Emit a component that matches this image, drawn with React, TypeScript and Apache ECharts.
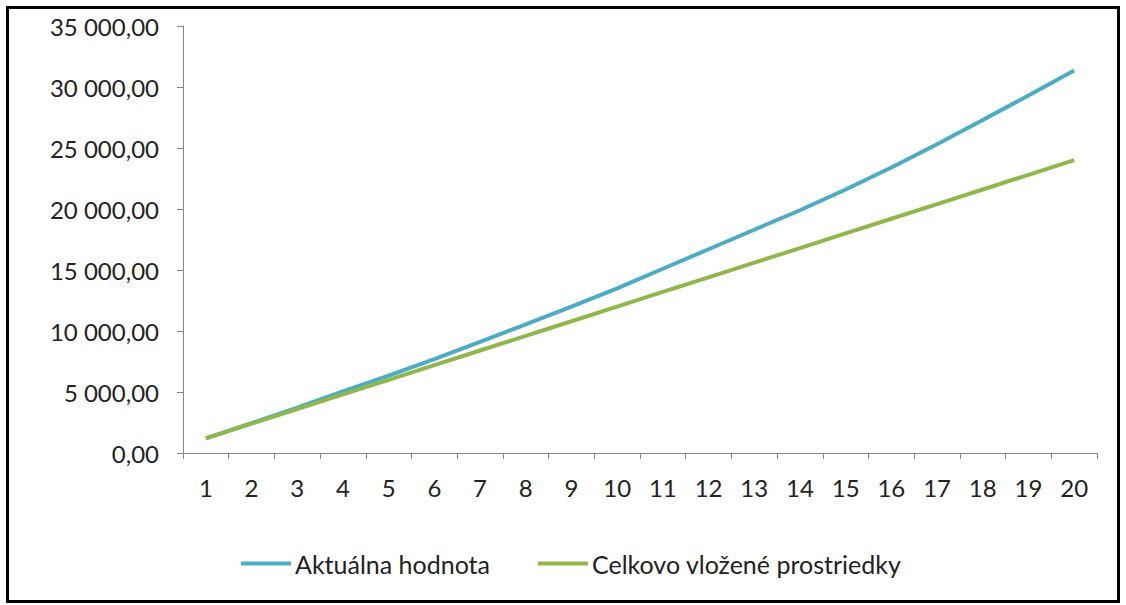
import React, { useEffect, useRef } from "react";
import * as echarts from "echarts";

const categories = ["1","2","3","4","5","6","7","8","9","10","11","12","13","14","15","16","17","18","19","20"];
const aktualnaHodnota = [1200, 2450, 3720, 5050, 6350, 7700, 9100, 10550, 12000, 13500, 15100, 16700, 18300, 19900, 21600, 23400, 25300, 27300, 29300, 31350];
const celkovoVlozene = [1200, 2400, 3600, 4800, 6000, 7200, 8400, 9600, 10800, 12000, 13200, 14400, 15600, 16800, 18000, 19200, 20400, 21600, 22800, 24000];
const seriesNames = ["Aktuálna hodnota", "Celkovo vložené prostriedky"];

const fmt = (v: number) => {
  const s = Math.round(v).toString().replace(/\B(?=(\d{3})+(?!\d))/g, " ");
  return s + ",00";
};

export default function App() {
  const ref = useRef<HTMLDivElement>(null);
  useEffect(() => {
    document.body.style.margin = "0";
    const chart = echarts.init(ref.current!, null, { renderer: "svg" });
    const font = "Lato, 'Open Sans', sans-serif";
    chart.setOption({
      animation: false,
      backgroundColor: "#ffffff",
      textStyle: { fontFamily: font },
      graphic: [
        {
          type: "rect",
          shape: { x: 7.5, y: 7.5, width: 1111, height: 594 },
          style: { fill: "none", stroke: "#000", lineWidth: 3 },
          silent: true,
        },
      ],
      grid: { left: 183, right: 29, top: 26, bottom: 152 },
      xAxis: {
        type: "category",
        data: categories,
        boundaryGap: true,
        axisLine: { lineStyle: { color: "#868686", width: 1 } },
        axisTick: { show: true, length: 6, lineStyle: { color: "#868686" } },
        axisLabel: { color: "#222", fontSize: 24, margin: 22, fontFamily: font },
        splitLine: { show: false },
      },
      yAxis: {
        type: "value",
        min: 0,
        max: 35000,
        interval: 5000,
        axisLine: { show: true, lineStyle: { color: "#868686", width: 1 } },
        axisTick: { show: true, length: 6, lineStyle: { color: "#868686" } },
        axisLabel: { color: "#222", fontSize: 24, margin: 24, formatter: fmt, fontFamily: font },
        splitLine: { show: false },
      },
      legend: {
        left: 236,
        top: 546,
        itemWidth: 50,
        itemHeight: 4,
        itemGap: 48,
        icon: "rect",
        textStyle: { color: "#222", fontSize: 25, fontFamily: font, padding: [0, 0, 0, -1] },
        data: seriesNames,
      },
      series: [
        {
          name: seriesNames[0],
          type: "line",
          data: aktualnaHodnota,
          symbol: "none",
          lineStyle: { color: "#4bacc6", width: 4 },
          itemStyle: { color: "#4bacc6" },
        },
        {
          name: seriesNames[1],
          type: "line",
          data: celkovoVlozene,
          symbol: "none",
          lineStyle: { color: "#8fb74a", width: 4 },
          itemStyle: { color: "#8fb74a" },
        },
      ],
    });
    return () => chart.dispose();
  }, []);
  return <div ref={ref} style={{ width: 1126, height: 605 }} />;
}
